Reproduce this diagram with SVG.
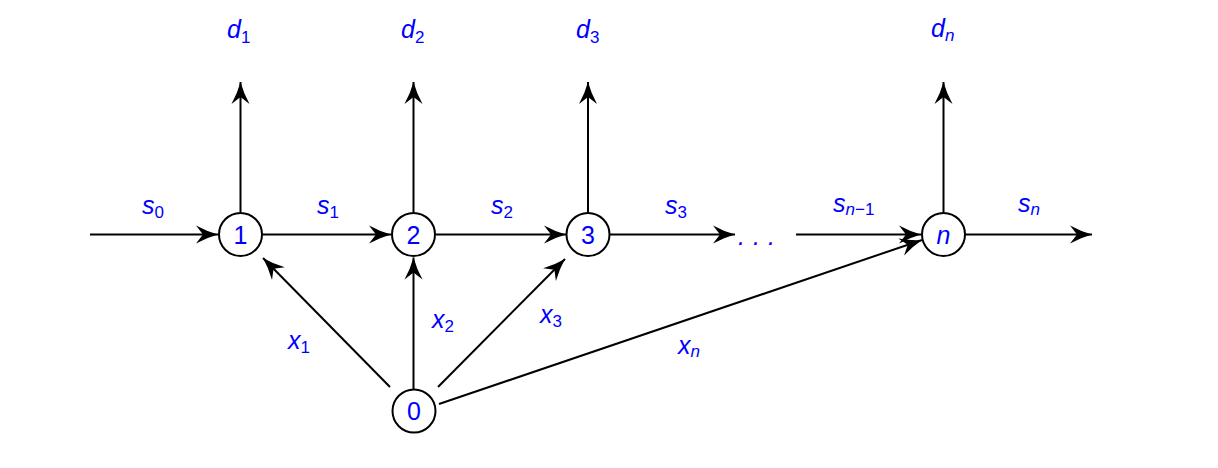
<svg xmlns="http://www.w3.org/2000/svg" width="1218" height="468" viewBox="0 0 1218 468">
<style>
.node circle{fill:#fff;stroke:#000;stroke-width:2}
.num{font-family:"Liberation Sans",Arial,sans-serif;font-size:25px;fill:#0000ff;text-anchor:middle}
.lbl{font-family:"Liberation Sans",Arial,sans-serif;font-size:25px;font-style:italic;fill:#0000ff}
.sub{font-size:17px;font-style:normal}
.subi{font-size:17px;font-style:italic}
.edge{stroke:#000;stroke-width:2;fill:none;marker-end:url(#arr)}
</style>
<defs>
<marker id="arr" markerUnits="userSpaceOnUse" viewBox="-23 -10 25 20" markerWidth="25" markerHeight="20" refX="0" refY="0" orient="auto">
<path d="M0,0 Q-11,-3 -22,-9 L-15,0 L-22,9 Q-11,3 0,0Z" fill="#000"/>
</marker>
</defs>
<g id="connectors">
<line class="edge" x1="90" y1="234.5" x2="218" y2="234.5"/>
<line class="edge" x1="262.5" y1="234.5" x2="391" y2="234.5"/>
<line class="edge" x1="435.5" y1="234.5" x2="566" y2="234.5"/>
<line class="edge" x1="610" y1="234.5" x2="735" y2="234.5"/>
<line class="edge" x1="796" y1="234.5" x2="921" y2="234.5"/>
<line class="edge" x1="965" y1="234.5" x2="1092" y2="234.5"/>
<line class="edge" x1="240.5" y1="212.5" x2="240.5" y2="82"/>
<line class="edge" x1="413.5" y1="212.5" x2="413.5" y2="82"/>
<line class="edge" x1="588" y1="212.5" x2="588" y2="82"/>
<line class="edge" x1="943.5" y1="212.5" x2="943.5" y2="82"/>
<line class="edge" x1="390" y1="387" x2="263" y2="258"/>
<line class="edge" x1="413.5" y1="389" x2="413.5" y2="257.5"/>
<line class="edge" x1="438" y1="387" x2="565" y2="259"/>
<line class="edge" x1="439" y1="404" x2="922" y2="240"/>
</g>
<g id="node1" class="node"><circle cx="240.5" cy="234.5" r="21.5"/><text class="num" x="240.5" y="243.5">1</text></g>
<g id="node2" class="node"><circle cx="413.5" cy="234.5" r="21.5"/><text class="num" x="413.5" y="243.5">2</text></g>
<g id="node3" class="node"><circle cx="588" cy="234.5" r="21.5"/><text class="num" x="588" y="243.5">3</text></g>
<g id="noden" class="node"><circle cx="943.5" cy="234.5" r="21.5"/><text class="num" x="943.5" y="243.5" font-style="italic">n</text></g>
<g id="node0" class="node"><circle cx="414" cy="411" r="21.5"/><text class="num" x="414" y="420">0</text></g>
<g id="labels">
<text class="lbl" x="227" y="38">d<tspan class="sub" dy="5">1</tspan></text>
<text class="lbl" x="401" y="38">d<tspan class="sub" dy="5">2</tspan></text>
<text class="lbl" x="576" y="38">d<tspan class="sub" dy="5">3</tspan></text>
<text class="lbl" x="931" y="37">d<tspan class="subi" dy="4">n</tspan></text>
<text class="lbl" x="142" y="214">s<tspan class="sub" dy="4">0</tspan></text>
<text class="lbl" x="317" y="214">s<tspan class="sub" dy="4">1</tspan></text>
<text class="lbl" x="491" y="214">s<tspan class="sub" dy="4">2</tspan></text>
<text class="lbl" x="665" y="214">s<tspan class="sub" dy="4">3</tspan></text>
<text class="lbl" x="833" y="212">s<tspan class="subi" dy="3">n</tspan><tspan class="sub">−1</tspan></text>
<text class="lbl" x="1018" y="212">s<tspan class="subi" dy="3">n</tspan></text>
<text class="lbl" x="738" y="245" font-style="normal" letter-spacing="8">...</text>
<text class="lbl" x="288" y="349">x<tspan class="sub" dy="4">1</tspan></text>
<text class="lbl" x="432" y="328">x<tspan class="sub" dy="4">2</tspan></text>
<text class="lbl" x="540" y="323">x<tspan class="sub" dy="4">3</tspan></text>
<text class="lbl" x="678" y="354">x<tspan class="subi" dy="3">n</tspan></text>
</g>
</svg>
